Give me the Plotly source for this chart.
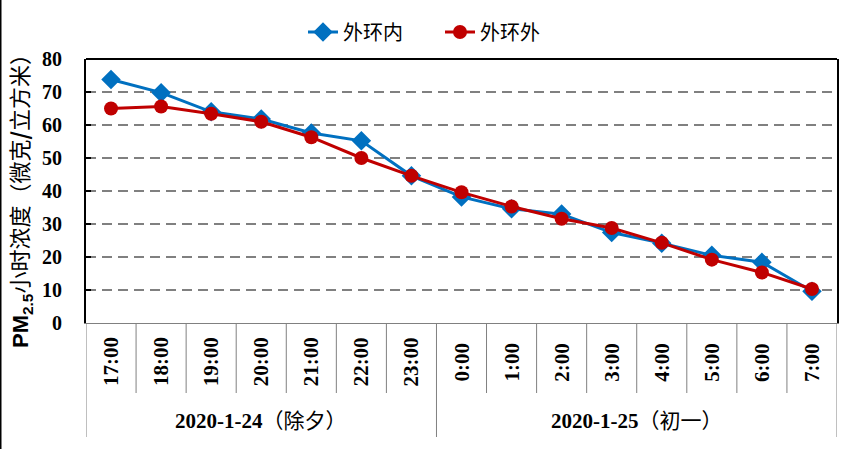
import plotly.graph_objects as go

hours = ["17:00", "18:00", "19:00", "20:00", "21:00", "22:00", "23:00",
         "0:00", "1:00", "2:00", "3:00", "4:00", "5:00", "6:00", "7:00"]
inner = [73.8, 69.8, 64.0, 61.8, 57.6, 55.2, 44.6, 38.2, 34.6, 33.0, 27.4, 24.2, 20.5, 18.4, 9.6]
outer = [65.0, 65.6, 63.4, 61.0, 56.3, 50.0, 44.6, 39.6, 35.3, 31.6, 28.8, 24.3, 19.2, 15.3, 10.3]
groups = ["2020-1-24", "2020-1-25"]
group_notes = ["（除夕）", "（初一）"]
group_sizes = [7, 8]
series_names = ["外环内", "外环外"]
yticks = [0, 10, 20, 30, 40, 50, 60, 70, 80]

W, H = 852, 449
L, R, T, B = 86, 15, 59, 126
PW, PH = W - L - R, H - T - B


def py(pix):  # pixel y from top -> paper y
    return (H - B - pix) / PH


def px(pix):
    return (pix - L) / PW


fig = go.Figure()
fig.add_trace(go.Scatter(
    x=hours, y=inner, name=series_names[0], mode="lines+markers",
    line=dict(color="#0070C0", width=3),
    marker=dict(symbol="diamond", size=15, color="#0070C0")))
fig.add_trace(go.Scatter(
    x=hours, y=outer, name=series_names[1], mode="lines+markers",
    line=dict(color="#C00000", width=3),
    marker=dict(symbol="circle", size=14, color="#C00000")))

gray = "#808080"
shapes = []
# top border of plot
shapes.append(dict(type="line", xref="paper", yref="paper", x0=0, x1=1, y0=1, y1=1,
                   line=dict(color="black", width=2)))
# separators below axis
n = len(hours)
bounds_long = [-0.5]
acc = -0.5
for s in group_sizes:
    acc += s
    bounds_long.append(acc)
for i in range(n + 1):
    b = i - 0.5
    if b in bounds_long:
        y1 = py(437)
    else:
        y1 = py(393)
    shapes.append(dict(type="line", xref="x", yref="paper", x0=b, x1=b, y0=0, y1=y1,
                       line=dict(color=gray, width=1)))
# left edge line of the picture
shapes.append(dict(type="line", xref="paper", yref="paper", x0=px(0.75), x1=px(0.75),
                   y0=py(H), y1=py(0), line=dict(color="black", width=1.5)))

annotations = []
for h in hours:
    annotations.append(dict(x=h, y=py(362), xref="x", yref="paper", text="<b>%s</b>" % h,
                            textangle=-90, showarrow=False, xanchor="center", yanchor="middle",
                            font=dict(family="Liberation Serif", size=21, color="black")))
start = 0
for g, note, s in zip(groups, group_notes, group_sizes):
    c = start + (s - 1) / 2
    annotations.append(dict(x=c, y=py(421), xref="x", yref="paper",
                            text="<b>%s</b>%s" % (g, note), showarrow=False,
                            xanchor="center", yanchor="middle",
                            font=dict(family="Liberation Serif, Noto Sans CJK SC", size=21,
                                      color="black")))
    start += s
annotations.append(dict(
    x=px(19), y=py(196), xref="paper", yref="paper", textangle=-90, showarrow=False,
    xanchor="center", yanchor="middle",
    text='<span style="font-family:Liberation Sans"><b>PM<sub>2.5</sub></b></span>小时浓度（微克<b>/</b>立方米）',
    font=dict(family="Noto Sans CJK SC", size=22, color="black")))

fig.update_layout(
    width=W, height=H,
    margin=dict(l=L, r=R, t=T, b=B, autoexpand=False),
    paper_bgcolor="white", plot_bgcolor="white",
    showlegend=True,
    legend=dict(orientation="h", x=px(440), y=py(32), xanchor="center", yanchor="middle",
                font=dict(family="Noto Sans CJK SC", size=20, color="black"),
                entrywidth=92, entrywidthmode="pixels", bgcolor="rgba(0,0,0,0)"),
    shapes=shapes, annotations=annotations,
)
fig.update_xaxes(type="category", range=[-0.5, n - 0.5], showticklabels=False,
                 showgrid=False, zeroline=False, showline=True, linecolor=gray, linewidth=1,
                 ticks="", fixedrange=True)
fig.update_yaxes(range=[0, 80], tickvals=yticks, showgrid=True, gridcolor=gray, gridwidth=2,
                 griddash="10px,6px", zeroline=False, showline=True, linecolor="black",
                 linewidth=2, mirror=True, ticks="inside", ticklen=5, tickcolor="black",
                 tickwidth=1.5, ticklabelstandoff=18,
                 tickfont=dict(family="Liberation Serif", size=20, color="black",
                               weight="bold"), fixedrange=True)

fig.write_html("out.html", config={"displayModeBar": False},
               post_script="document.body.style.margin='0';")
